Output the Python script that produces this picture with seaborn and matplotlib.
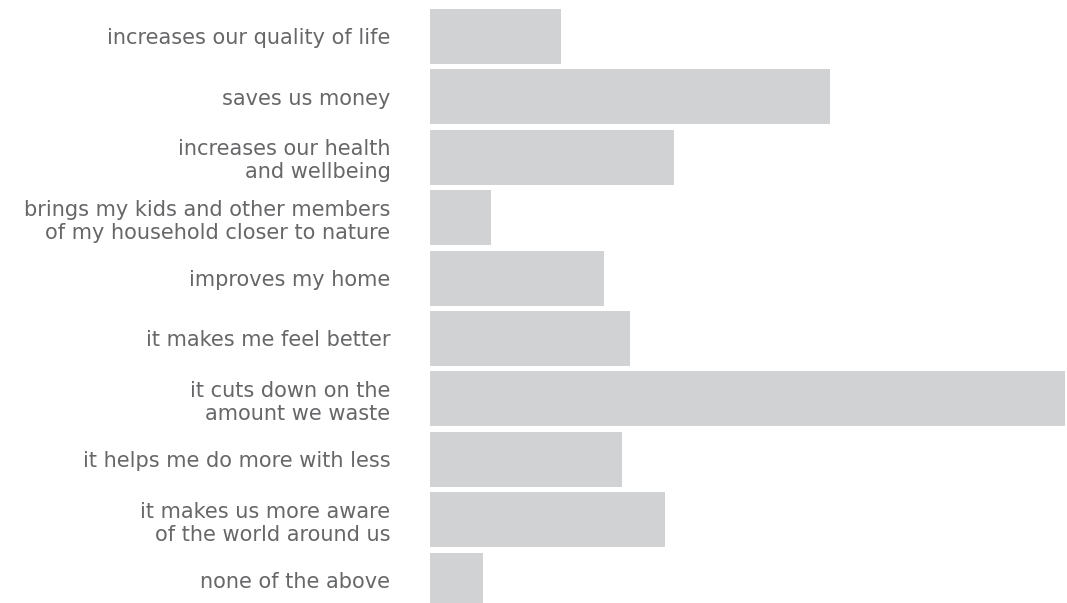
import matplotlib
matplotlib.use("Agg")
import matplotlib.pyplot as plt
import pandas as pd
import seaborn as sns

categories = [
    "increases our quality of life",
    "saves us money",
    "increases our health\nand wellbeing",
    "brings my kids and other members\nof my household closer to nature",
    "improves my home",
    "it makes me feel better",
    "it cuts down on the\namount we waste",
    "it helps me do more with less",
    "it makes us more aware\nof the world around us",
    "none of the above",
]
values = [13.1, 40.0, 24.4, 6.1, 17.4, 20.0, 63.5, 19.2, 23.5, 5.3]

df = pd.DataFrame({"reason": categories, "share": values})

sns.set_style("white")
plt.rcParams["font.family"] = ["DejaVu Sans"]

fig = plt.figure(figsize=(10.67, 6.03), dpi=100)
ax = fig.add_axes([430 / 1067, 0, 635 / 1067, 1])

sns.barplot(data=df, x="share", y="reason", color="#d1d2d4",
            saturation=1, width=0.91, linewidth=0, ax=ax)

ax.set_xlim(0, max(values))
ax.set_ylim(9.379, -0.604)
ax.set_xlabel("")
ax.set_ylabel("")
ax.set_xticks([])
sns.despine(ax=ax, left=True, bottom=True)
ax.tick_params(axis="y", length=0, pad=28.5, labelsize=15, labelcolor="#666769")
for lab in ax.get_yticklabels():
    lab.set_linespacing(1.2)

fig.savefig("out.png", dpi=100)
plt.close(fig)
